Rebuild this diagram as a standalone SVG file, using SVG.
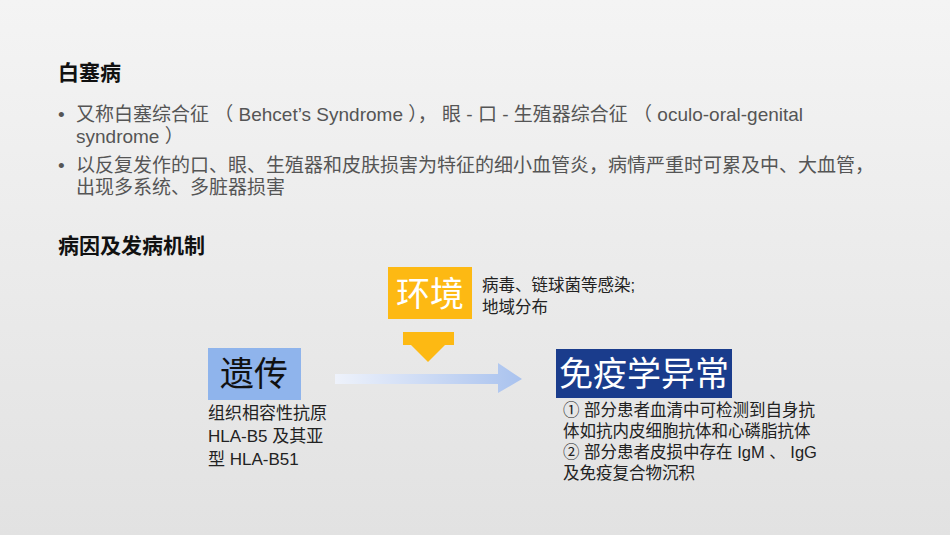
<svg xmlns="http://www.w3.org/2000/svg" width="950" height="535" viewBox="0 0 950 535">
<defs>
<linearGradient id="bg" x1="0" y1="0" x2="0" y2="1"><stop offset="0" stop-color="#f4f4f4"/><stop offset="1" stop-color="#e2e2e2"/></linearGradient>
<linearGradient id="ar" x1="0" y1="0" x2="1" y2="0"><stop offset="0" stop-color="#eef2fb"/><stop offset="1" stop-color="#a9c2ee"/></linearGradient>
<style>
text{font-family:"Liberation Sans","Noto Sans CJK SC",sans-serif;fill:#404040}
.h{font-size:21px;font-weight:bold;fill:#111}
.b{font-size:19px;fill:#555}
.t{font-size:16.5px;fill:#222}
.l{font-size:17px;fill:#222}
.big{font-size:34px}
</style>
</defs>
<rect width="950" height="535" fill="url(#bg)"/>
<text class="h" x="58" y="80">白塞病</text>
<text class="b" x="58" y="121">•</text>
<text class="b" x="76" y="121">又称白塞综合征 （ Behcet’s Syndrome ）， 眼 - 口 - 生殖器综合征 （ oculo-oral-genital</text>
<text class="b" x="76" y="143">syndrome ）</text>
<text class="b" x="58" y="172">•</text>
<text class="b" x="76" y="172">以反复发作的口、眼、生殖器和皮肤损害为特征的细小血管炎，病情严重时可累及中、大血管，</text>
<text class="b" x="76" y="194">出现多系统、多脏器损害</text>
<text class="h" x="58" y="253">病因及发病机制</text>
<g id="connectors">
<path d="M403 332 L454 332 L454 345 L445 345 L428 362 L411 345 L403 345 Z" fill="#fdb913"/>
<path d="M335 374 L498 374 L498 363 L522 379 L498 393 L498 384 L335 384 Z" fill="url(#ar)"/>
</g>
<g id="env">
<rect x="388" y="267" width="84" height="52" fill="#fdb913"/>
<text class="big" x="430" y="306" text-anchor="middle" style="fill:#fff">环境</text>
<text class="t" x="482" y="291">病毒、链球菌等感染;</text>
<text class="t" x="482" y="313">地域分布</text>
</g>
<g id="gen">
<rect x="208" y="348" width="93" height="52" fill="#8fb4ec"/>
<text class="big" x="254" y="386" text-anchor="middle" style="fill:#111">遗传</text>
<text class="l" x="208" y="419">组织相容性抗原</text>
<text class="l" x="208" y="442">HLA-B5 及其亚</text>
<text class="l" x="208" y="465">型 HLA-B51</text>
</g>
<g id="imm">
<rect x="556" y="349" width="176" height="49" fill="#1a3c8c"/>
<text class="big" x="644" y="386" text-anchor="middle" style="fill:#fff">免疫学异常</text>
<text class="t" x="563" y="416">①  部分患者血清中可检测到自身抗</text>
<text class="t" x="563" y="437">体如抗内皮细胞抗体和心磷脂抗体</text>
<text class="t" x="563" y="458">②  部分患者皮损中存在 IgM 、 IgG</text>
<text class="t" x="563" y="479">及免疫复合物沉积</text>
</g>
</svg>
